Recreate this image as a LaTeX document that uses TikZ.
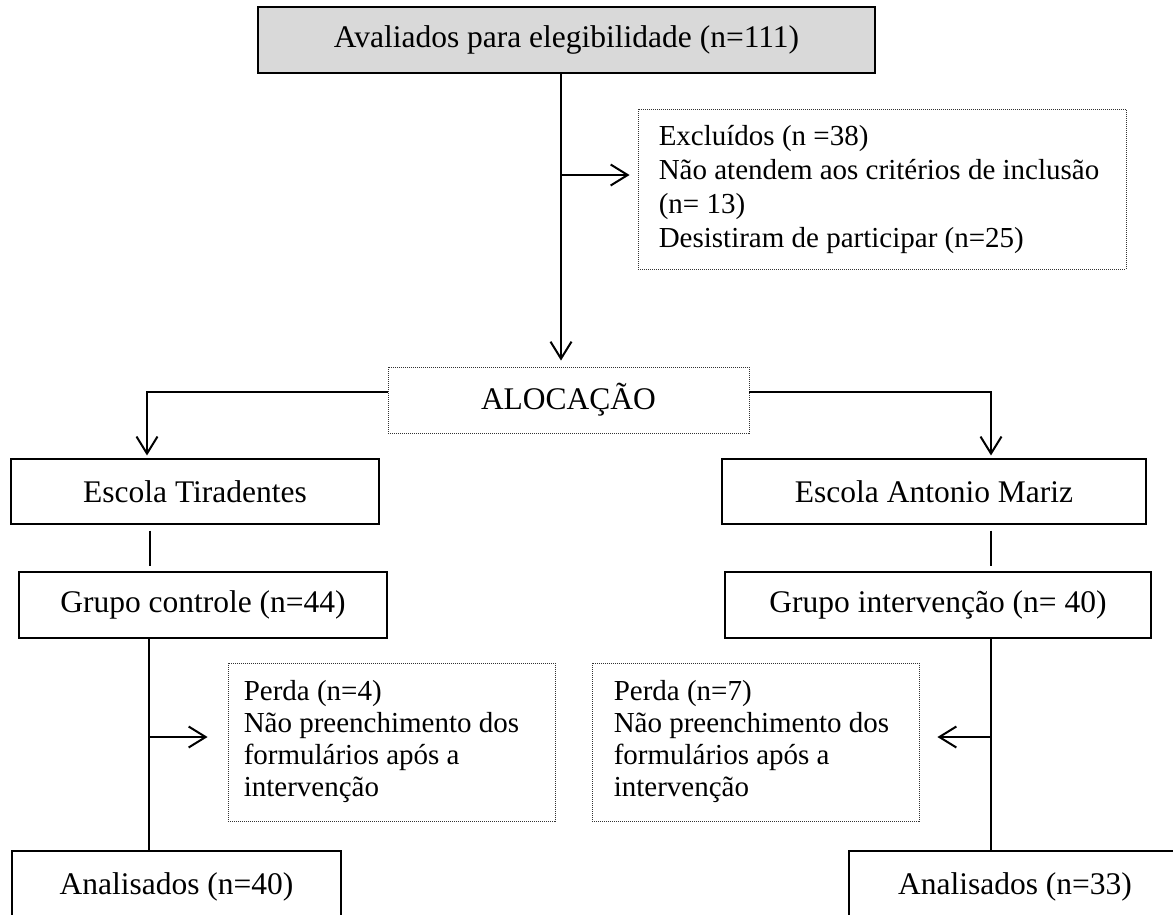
\documentclass[tikz,border=0pt]{standalone}
\usepackage{fontspec}
\setmainfont{Liberation Serif}
\usetikzlibrary{arrows.meta}
\definecolor{topgray}{HTML}{D9D9D9}
\begin{document}
\begin{tikzpicture}[x=1pt,y=-1pt,
  solidbox/.style={draw=black,line width=1.1pt,inner sep=0pt,font=\fontsize{31.5}{36}\selectfont},
  dotbox/.style={draw=black!80,line width=0.9pt,dash pattern=on 1pt off 1pt,inner sep=0pt},
  dottext/.style={inner sep=0pt,anchor=west,align=left,font=\fontsize{29}{32}\selectfont},
  conn/.style={line width=2pt},
  arr/.style={conn,-{Straight Barb[length=17pt,width=21pt]}},
]
\clip (0,0) rectangle (1173,914);
\fill[white] (0,0) rectangle (1173,914);

\node[solidbox,fill=topgray,minimum width=617pt,minimum height=66pt] (top) at (566.5,40) {Avaliados para elegibilidade (n=111)};
\node[dotbox,minimum width=488pt,minimum height=160pt] (exc) at (882,189) {};
\node[dottext,font=\fontsize{29}{34}\selectfont] (exct) at ([xshift=21pt]exc.west)
  {Excluídos (n =38)\\Não atendem aos critérios de inclusão\\(n= 13)\\Desistiram de participar (n=25)};
\node[dotbox,minimum width=361pt,minimum height=66pt,font=\fontsize{31.5}{36}\selectfont] (alloc) at (568.5,400) {ALOCAÇÃO};

\node[solidbox,minimum width=368pt,minimum height=65pt] (est) at (195,491.5) {Escola Tiradentes};
\node[solidbox,minimum width=424pt,minimum height=65pt] (eam) at (934,491.5) {Escola Antonio Mariz};
\node[solidbox,minimum width=368pt,minimum height=66pt] (gc) at (203,605) {Grupo controle (n=44)};
\node[solidbox,minimum width=426pt,minimum height=66pt] (gi) at (938,605) {Grupo intervenção (n= 40)};

\node[dotbox,minimum width=327pt,minimum height=158pt] (pl) at (391.5,742) {};
\node[dottext] (plt) at ([xshift=16pt]pl.west)
  {Perda (n=4)\\Não preenchimento dos\\formulários após a\\intervenção};
\node[dotbox,minimum width=327pt,minimum height=158pt] (pr) at (755.5,742) {};
\node[dottext] (prt) at ([xshift=22pt]pr.west)
  {Perda (n=7)\\Não preenchimento dos\\formulários após a\\intervenção};

\node[solidbox,minimum width=329pt,minimum height=72pt] (anl) at (176.5,887) {Analisados (n=40)};
\node[solidbox,minimum width=332pt,minimum height=72pt] (anr) at (1015,887) {Analisados (n=33)};

\coordinate (xm) at (561,0);
\coordinate (bx) at (561,175);
\coordinate (ay) at (0,392);
\coordinate (xl) at (147,0);
\coordinate (xr) at (991,0);
\coordinate (xa) at (150,0);
\coordinate (xb) at (149,0);
\coordinate (bl) at (149,737);
\coordinate (br) at (991,737);

\draw[arr,shorten >=6pt] (top.south -| xm) -- (alloc.north -| xm);
\draw[arr,shorten >=8pt] (bx) -- (bx -| exc.west);
\draw[arr,shorten >=3pt] (alloc.west |- ay) -| (est.north -| xl);
\draw[arr,shorten >=3pt] (alloc.east |- ay) -| (eam.north -| xr);
\draw[conn,shorten <=6pt,shorten >=5pt] (est.south -| xa) -- (gc.north -| xa);
\draw[conn,shorten <=6pt,shorten >=5pt] (eam.south -| xr) -- (gi.north -| xr);
\draw[conn] (gc.south -| xb) -- (anl.north -| xb);
\draw[conn] (gi.south -| xr) -- (anr.north -| xr);
\draw[arr,shorten >=20pt] (bl) -- (bl -| pl.west);
\draw[arr,shorten >=18pt] (br) -- (br -| pr.east);
\end{tikzpicture}
\end{document}
